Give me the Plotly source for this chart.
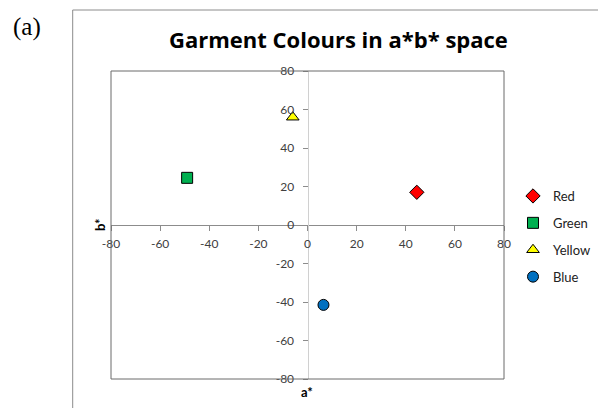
import plotly.graph_objects as go

# Data
names = ["Red", "Green", "Yellow", "Blue"]
a_star = [44.5, -49.0, -6.0, 6.5]
b_star = [17.0, 24.5, 56.0, -41.5]
colors = ["#ff0000", "#00b050", "#ffff00", "#0070c0"]
symbols = ["diamond", "square", "triangle-up", "circle"]
sizes = [11, 11, 11, 11]
tick_vals = [-80, -60, -40, -20, 0, 20, 40, 60, 80]
tick_text = [str(v) for v in tick_vals]

W, H = 598, 408
L, R, T, B = 111, 94, 71, 29
pw, ph = W - L - R, H - T - B

def px(x):
    return (x - L) / pw

def py(y):
    return (H - B - y) / ph

fig = go.Figure()
for i, n in enumerate(names):
    fig.add_trace(go.Scatter(
        x=[a_star[i]], y=[b_star[i]], mode="markers", name=n,
        legendgroup=n,
        marker=dict(color=colors[i], symbol=symbols[i], size=sizes[i],
                    line=dict(color="#000000", width=1)),
    ))

FONT = "Lato"
axis_common = dict(
    range=[-80, 80], tickmode="array", tickvals=tick_vals, ticktext=tick_text,
    showgrid=False, zeroline=False, showline=True,
    ticks="outside", ticklen=5, tickwidth=1, tickcolor="#8c8c8c",
    tickfont=dict(family=FONT, size=12, color="#404040"),
    anchor="free", position=0.5, fixedrange=True,
)

fig.update_layout(
    width=W, height=H,
    margin=dict(l=L, r=R, t=T, b=B, pad=0, autoexpand=False),
    paper_bgcolor="white", plot_bgcolor="white",
    font=dict(family=FONT, size=12, color="#222222"),
    xaxis=dict(**axis_common, linecolor="#8c8c8c", side="bottom", ticklabelstandoff=3),
    yaxis=dict(**axis_common, linecolor="#d0d0d0", side="left", ticklabelstandoff=6),
    showlegend=True,
    legend=dict(
        x=px(513), xanchor="left", y=py(236.5), yanchor="middle",
        traceorder="grouped", tracegroupgap=7,
        font=dict(family=FONT, size=13, color="#222222"),
        bgcolor="rgba(0,0,0,0)", itemclick=False, itemdoubleclick=False,
    ),
    shapes=[
        # plot frame
        dict(type="rect", xref="paper", yref="paper", x0=0, y0=0, x1=1, y1=1,
             line=dict(color="#6b6b6b", width=1), layer="above"),
        # outer chart border (left and top)
        dict(type="line", xref="paper", yref="paper", x0=px(72.7), x1=px(72.7),
             y0=py(10), y1=py(420), line=dict(color="#8c8c8c", width=1)),
        dict(type="line", xref="paper", yref="paper", x0=px(72.7), x1=px(620),
             y0=py(10), y1=py(10), line=dict(color="#8c8c8c", width=1)),
    ],
    annotations=[
        dict(text="Garment Colours in a*b* space", xref="paper", yref="paper",
             x=px(338), y=py(39.5), xanchor="center", yanchor="middle", showarrow=False,
             font=dict(family="Open Sans", size=22, color="#000000", weight="bold")),
        dict(text="(a)", xref="paper", yref="paper",
             x=px(27), y=py(27), xanchor="center", yanchor="middle", showarrow=False,
             font=dict(family="Liberation Serif", size=25, color="#000000")),
        dict(text="b*", xref="paper", yref="paper", textangle=-90,
             x=px(100), y=py(225), xanchor="center", yanchor="middle", showarrow=False,
             font=dict(family=FONT, size=13, color="#000000", weight="bold")),
        dict(text="a*", xref="paper", yref="paper",
             x=px(307), y=py(391.5), xanchor="center", yanchor="middle", showarrow=False,
             font=dict(family=FONT, size=13, color="#000000", weight="bold")),
    ],
)

fig.write_html(
    "out.html",
    config={"displayModeBar": False, "responsive": False},
    post_script="document.body.style.margin='0';document.body.style.overflow='hidden';",
)
